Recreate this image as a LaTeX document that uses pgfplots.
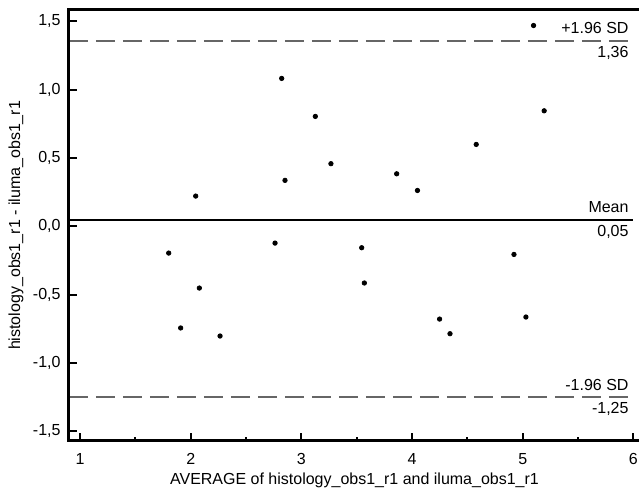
\documentclass[border=0pt]{standalone}
\usepackage{pgfplots}
\pgfplotsset{compat=1.18}
\usepackage{fontspec}
\setmainfont{Liberation Sans}

% Bland-Altman: mean of the two methods vs. their difference
\pgfplotstableread{
avg    diff
2.822  1.083
3.126  0.805
2.045  0.222
2.852  0.337
2.762 -0.122
5.098  1.470
5.194  0.846
4.580  0.600
3.267  0.459
3.861  0.385
4.049  0.263
3.545 -0.156
1.801 -0.195
2.078 -0.451
1.909 -0.743
2.265 -0.802
3.569 -0.414
4.921 -0.205
5.029 -0.663
4.249 -0.678
4.343 -0.785
}\bland

\begin{document}
\begin{tikzpicture}
\begin{axis}[
  scale only axis,
  width=285.5pt, height=215.6pt,
  xmin=0.9, xmax=6.06,
  ymin=-1.57, ymax=1.585,
  clip=false,
  axis line style={draw=none},
  font=\fontsize{8}{9.6}\selectfont,
  xtick={1,2,3,4,5,6},
  minor xtick={1.5,2.5,3.5,4.5,5.5},
  ytick={-1.5,-1,-0.5,0,0.5,1,1.5},
  yticklabels={{-1,5},{-1,0},{-0,5},{0,0},{0,5},{1,0},{1,5}},
  xticklabels={1,2,3,4,5,6},
  xtick pos=left, ytick pos=left,
  tick align=inside,
  major tick length=4pt, minor tick length=2pt,
  tick style={black, line width=1pt},
  xticklabel style={yshift=-2.7pt},
  yticklabel style={xshift=-0.7pt},
  xlabel={AVERAGE of histology\_obs1\_r1 and iluma\_obs1\_r1},
  ylabel={histology\_obs1\_r1 - iluma\_obs1\_r1},
  xlabel style={at={(rel axis cs:0.5,0)}, anchor=north, inner sep=0pt, yshift=-15.7pt},
  ylabel style={at={(rel axis cs:-0.1068,0.5)}, anchor=north, inner sep=0pt},
]
  % limits of agreement and mean difference
  \addplot[gray!80!black, line width=1pt, dash pattern=on 9.3pt off 4.2pt, forget plot]
    coordinates {(0.9,1.36) (6.0,1.36)};
  \addplot[gray!80!black, line width=1pt, dash pattern=on 9.3pt off 4.2pt, forget plot]
    coordinates {(0.9,-1.25) (6.0,-1.25)};
  \addplot[black, line width=1pt, forget plot]
    coordinates {(0.9,0.05) (6.0,0.05)};

  \addplot[only marks, mark=*, mark size=1.1pt, black] table[x=avg, y=diff] {\bland};

  \node[anchor=base east, inner sep=0pt] at (axis cs:5.96,1.36) [yshift=3.5pt] {+1.96 SD};
  \node[anchor=north east, inner sep=0pt] at (axis cs:5.96,1.36) [yshift=-2.5pt] {1,36};
  \node[anchor=base east, inner sep=0pt] at (axis cs:5.96,0.05) [yshift=3.5pt] {Mean};
  \node[anchor=north east, inner sep=0pt] at (axis cs:5.96,0.05) [yshift=-2.5pt] {0,05};
  \node[anchor=base east, inner sep=0pt] at (axis cs:5.96,-1.25) [yshift=3.5pt] {-1.96 SD};
  \node[anchor=north east, inner sep=0pt] at (axis cs:5.96,-1.25) [yshift=-2.5pt] {-1,25};

  % frame: left, top and bottom sides
  \draw[black, line width=1.5pt, line cap=rect]
    (rel axis cs:1,1) -- (rel axis cs:0,1) -- (rel axis cs:0,0) -- (rel axis cs:1,0);
  \coordinate (bl) at (rel axis cs:0,0);
\end{axis}
\pgfresetboundingbox
\path[use as bounding box] (bl) ++(-34.5pt,-25.5pt) rectangle ++(319.5pt,246pt);
\end{tikzpicture}
\end{document}
